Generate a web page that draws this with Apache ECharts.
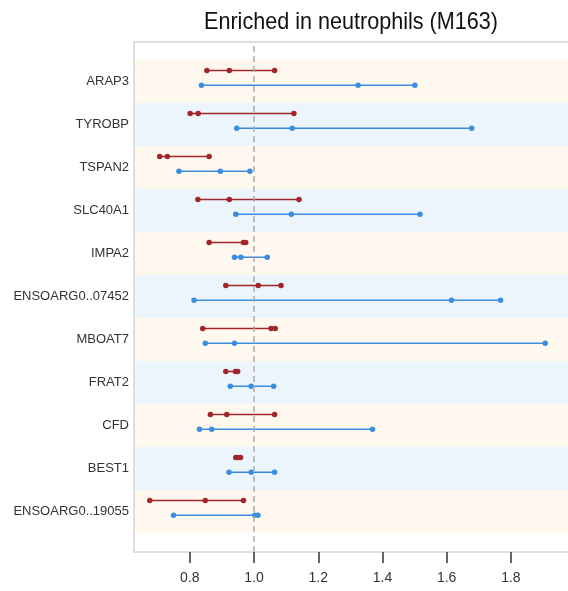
<!DOCTYPE html>
<html><head><meta charset="utf-8">
<script src="https://cdn.jsdelivr.net/npm/echarts@6/dist/echarts.min.js"></script>
<style>html,body{margin:0;padding:0;background:#fff}#c{width:568px;height:591px}</style>
</head><body><div id="c"></div>
<script>
const titleText = 'Enriched in neutrophils (M163)';
const genes = ['ARAP3','TYROBP','TSPAN2','SLC40A1','IMPA2','ENSOARG0..07452','MBOAT7','FRAT2','CFD','BEST1','ENSOARG0..19055'];
const redValues = [
  [0.853,0.923,1.064],
  [0.801,0.826,1.124],
  [0.706,0.730,0.860],
  [0.825,0.923,1.140],
  [0.860,0.967,0.974],
  [0.912,1.013,1.084],
  [0.840,1.053,1.066],
  [0.912,0.942,0.949],
  [0.864,0.915,1.064],
  [0.943,0.950,0.958],
  [0.675,0.848,0.967]
];
const blueValues = [
  [0.836,1.324,1.501],
  [0.946,1.119,1.678],
  [0.766,0.895,0.987],
  [0.943,1.116,1.517],
  [0.939,0.959,1.041],
  [0.813,1.615,1.768],
  [0.848,0.939,1.907],
  [0.926,0.991,1.061],
  [0.830,0.868,1.369],
  [0.922,0.991,1.064],
  [0.749,1.002,1.012]
];
const xTicks = [0.8,1.0,1.2,1.4,1.6,1.8];
const refValue = 1.0;

const RED = '#a0262b', BLUE = '#3b8de0';
const RED_OFF = -0.255, BLUE_OFF = 0.09;
const XMIN = 0.626, XMAX = 1.978;
const FRAME = '#d4d4d4';

// horizontal squeeze for the condensed-looking title
const TITLE_FONT = '24px "Liberation Sans", Arial, sans-serif';
const mctx = document.createElement('canvas').getContext('2d');
mctx.font = TITLE_FONT;
const titleScale = 294 / mctx.measureText(titleText).width;

const series = [];
series.push({
  type: 'line', xAxisIndex: 0, yAxisIndex: 0, data: [], silent: true,
  markLine: {
    symbol: 'none', silent: true, label: {show: false},
    lineStyle: {color: '#aaaaaa', type: [6, 4], width: 1.5},
    data: [{xAxis: refValue}]
  },
  z: 2
});
function addSeries(vals, off, color) {
  vals.forEach((row, i) => {
    series.push({
      type: 'line', xAxisIndex: 1, yAxisIndex: 2,
      data: row.map(v => [v, i + off]),
      symbol: 'circle', symbolSize: 5.5, showSymbol: true,
      lineStyle: {color: color, width: 1.5},
      itemStyle: {color: color},
      silent: true, z: 4, animation: false
    });
  });
}
addSeries(redValues, RED_OFF, RED);
addSeries(blueValues, BLUE_OFF, BLUE);

const chart = echarts.init(document.getElementById('c'), null, {renderer: 'canvas'});
chart.setOption({
  animation: false,
  backgroundColor: '#ffffff',
  graphic: [{
    type: 'text', x: 351, y: 10, z: 10, scaleX: titleScale,
    style: {
      text: titleText, fill: '#111111', font: TITLE_FONT,
      textAlign: 'center', textVerticalAlign: 'top'
    }
  }],
  grid: [
    {left: 134, top: 42, right: 0, bottom: 39, show: false},
    {left: 134, top: 60, right: 0, bottom: 58, show: false}
  ],
  xAxis: [
    {
      gridIndex: 0, type: 'value', min: XMIN, max: XMAX, position: 'bottom', z: 6,
      axisLine: {show: true, lineStyle: {color: FRAME, width: 1.5}},
      axisTick: {show: true, customValues: xTicks, length: 11, lineStyle: {color: '#333', width: 1.5}},
      axisLabel: {customValues: xTicks, fontSize: 14, color: '#333', margin: 19,
        fontFamily: '"Liberation Sans", Arial, sans-serif',
        formatter: v => v.toFixed(1)},
      splitLine: {show: false}
    },
    {gridIndex: 1, type: 'value', min: XMIN, max: XMAX, show: false},
    {
      gridIndex: 0, type: 'value', min: XMIN, max: XMAX, position: 'top', z: 6,
      axisLine: {show: true, lineStyle: {color: FRAME, width: 1.5}},
      axisTick: {show: false}, axisLabel: {show: false}, splitLine: {show: false}
    }
  ],
  yAxis: [
    {
      gridIndex: 0, type: 'value', min: 0, max: 1, position: 'left', z: 6,
      axisLine: {show: true, lineStyle: {color: FRAME, width: 1.5}},
      axisTick: {show: false}, axisLabel: {show: false}, splitLine: {show: false}
    },
    {
      gridIndex: 1, type: 'category', data: genes, inverse: true, position: 'left',
      boundaryGap: true,
      axisLine: {show: false}, axisTick: {show: false},
      axisLabel: {fontSize: 13, color: '#333', margin: 5, fontFamily: '"Liberation Sans", Arial, sans-serif'},
      splitLine: {show: false},
      splitArea: {show: true, areaStyle: {color: ['#fef8ee', '#edf5fc']}}
    },
    {gridIndex: 1, type: 'value', min: -0.5, max: 10.5, inverse: true, position: 'right', show: false}
  ],
  series: series
});
</script>
</body></html>
